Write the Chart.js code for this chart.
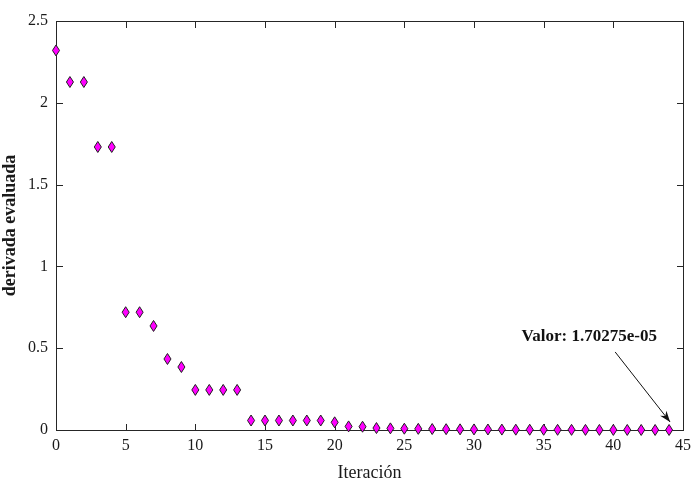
<!DOCTYPE html>
<html>
<head>
<meta charset="utf-8">
<script src="https://cdn.jsdelivr.net/npm/chart.js@4.4.0/dist/chart.umd.min.js"></script>
<style>
  html, body { margin: 0; padding: 0; background: #fff; }
  #wrap { width: 697px; height: 484px; }
</style>
</head>
<body>
<div id="wrap"><canvas id="chart"></canvas></div>
<script>
(function() {
    'use strict';

    // iteration index and evaluated derivative at each step
    const iteraciones = [0, 1, 2, 3, 4, 5, 6, 7, 8, 9, 10, 11, 12, 13, 14, 15, 16, 17, 18, 19, 20, 21,
        22, 23, 24, 25, 26, 27, 28, 29, 30, 31, 32, 33, 34, 35, 36, 37, 38, 39, 40, 41, 42, 43, 44];
    const derivada = [2.32, 2.127, 2.127, 1.73, 1.73, 0.72, 0.72, 0.636, 0.434, 0.385,
        0.245, 0.245, 0.245, 0.245, 0.058, 0.058, 0.058, 0.058, 0.058, 0.058, 0.047,
        0.022, 0.02, 0.012, 0.01, 0.008, 0.007, 0.006, 0.005, 0.004, 0.0035, 0.003,
        0.0025, 0.002, 0.0017, 0.0014, 0.0011, 0.0009, 0.0007, 0.0005, 0.0004, 0.0003,
        0.0002, 0.0001, 1.70275e-05];
    const xTicks = [0, 5, 10, 15, 20, 25, 30, 35, 40, 45];
    const yTicks = [0, 0.5, 1, 1.5, 2, 2.5];
    const etiqueta = 'Valor: 1.70275e-05';

    const FONT = '"Liberation Serif", "Times New Roman", serif';
    const INK = '#1a1a1a';

    // points drawn as tall diamonds (narrower than they are high)
    Chart.PointElement.prototype.draw = function(ctx) {
        const o = this.options;
        if (this.skip || o.radius < 0.1) return;
        const hh = o.radius;
        const hw = o.radius * 0.64;
        ctx.save();
        ctx.beginPath();
        ctx.moveTo(this.x, this.y - hh);
        ctx.lineTo(this.x + hw, this.y);
        ctx.lineTo(this.x, this.y + hh);
        ctx.lineTo(this.x - hw, this.y);
        ctx.closePath();
        ctx.fillStyle = o.backgroundColor;
        ctx.fill();
        ctx.lineWidth = o.borderWidth;
        ctx.strokeStyle = o.borderColor;
        ctx.stroke();
        ctx.restore();
    };

    // axes box and inward ticks, under the markers
    const boxPlugin = {
        id: 'boxPlugin',
        beforeDatasetsDraw(chart) {
            const ctx = chart.ctx;
            const xs = chart.scales.x;
            const ys = chart.scales.y;
            const L = Math.round(xs.getPixelForValue(xTicks[0]));
            const R = Math.round(xs.getPixelForValue(xTicks[xTicks.length - 1]));
            const T = Math.round(ys.getPixelForValue(yTicks[yTicks.length - 1]));
            const B = Math.round(ys.getPixelForValue(yTicks[0]));
            ctx.save();
            ctx.fillStyle = '#262626';
            ctx.fillRect(L, T, R - L + 1, 1);
            ctx.fillRect(L, B, R - L + 1, 1);
            ctx.fillRect(L, T, 1, B - T + 1);
            ctx.fillRect(R, T, 1, B - T + 1);
            xTicks.forEach(v => {
                const px = Math.round(xs.getPixelForValue(v));
                ctx.fillRect(px, B - 6, 1, 6);
                ctx.fillRect(px, T + 1, 1, 6);
            });
            yTicks.forEach(v => {
                const py = Math.round(ys.getPixelForValue(v));
                ctx.fillRect(L + 1, py, 6, 1);
                ctx.fillRect(R - 6, py, 6, 1);
            });
            ctx.restore();
        },
        // label and arrow pointing at the last iterate
        afterDraw(chart) {
            const ctx = chart.ctx;
            const xs = chart.scales.x;
            const ys = chart.scales.y;
            const last = derivada.length - 1;
            const tipX = xs.getPixelForValue(iteraciones[last]) + 1;
            const tipY = ys.getPixelForValue(derivada[last]) - 8;
            const sx = xs.getPixelForValue(40.13);
            const sy = ys.getPixelForValue(0.477);
            ctx.save();
            ctx.font = 'bold 17px ' + FONT;
            ctx.fillStyle = '#111';
            ctx.textAlign = 'center';
            ctx.textBaseline = 'middle';
            ctx.fillText(etiqueta, xs.getPixelForValue(38.27), ys.getPixelForValue(0.568));

            ctx.strokeStyle = '#111';
            ctx.lineWidth = 1;
            ctx.beginPath();
            ctx.moveTo(sx, sy);
            ctx.lineTo(tipX, tipY);
            ctx.stroke();
            const ang = Math.atan2(tipY - sy, tipX - sx);
            const len = 11, half = 4;
            ctx.beginPath();
            ctx.moveTo(tipX, tipY);
            ctx.lineTo(tipX - len * Math.cos(ang) + half * Math.sin(ang),
                tipY - len * Math.sin(ang) - half * Math.cos(ang));
            ctx.lineTo(tipX - len * 0.7 * Math.cos(ang), tipY - len * 0.7 * Math.sin(ang));
            ctx.lineTo(tipX - len * Math.cos(ang) - half * Math.sin(ang),
                tipY - len * Math.sin(ang) + half * Math.cos(ang));
            ctx.closePath();
            ctx.fill();
            ctx.restore();
        }
    };

    const points = iteraciones.map((x, i) => ({ x: x, y: derivada[i] }));

    new Chart(document.getElementById('chart'), {
        type: 'scatter',
        data: {
            datasets: [{
                data: points,
                pointRadius: 5.5,
                pointBackgroundColor: '#ff00ff',
                pointBorderColor: '#202020',
                pointBorderWidth: 1,
                clip: false
            }]
        },
        options: {
            responsive: true,
            maintainAspectRatio: false,
            animation: false,
            layout: { padding: { top: 21, right: 11, left: 0, bottom: 0 } },
            plugins: {
                legend: { display: false },
                tooltip: { enabled: false }
            },
            scales: {
                x: {
                    type: 'linear',
                    min: 0,
                    max: 45,
                    afterBuildTicks: s => { s.ticks = xTicks.map(v => ({ value: v })); },
                    afterFit: s => { s.height = 54; },
                    grid: { display: false, drawTicks: false },
                    border: { display: false },
                    ticks: {
                        padding: 6,
                        maxRotation: 0,
                        color: INK,
                        font: { family: FONT, size: 16 },
                        callback: v => String(v)
                    },
                    title: {
                        display: true,
                        text: 'Iteración',
                        color: INK,
                        padding: { top: 0, bottom: 0 },
                        font: { family: FONT, size: 18 }
                    }
                },
                y: {
                    type: 'linear',
                    min: 0,
                    max: 2.5,
                    afterBuildTicks: s => { s.ticks = yTicks.map(v => ({ value: v })); },
                    afterFit: s => { s.width = 56; },
                    grid: { display: false, drawTicks: false },
                    border: { display: false },
                    ticks: {
                        padding: 8,
                        color: INK,
                        font: { family: FONT, size: 16 },
                        callback: v => String(v)
                    },
                    title: {
                        display: true,
                        text: 'derivada evaluada',
                        color: INK,
                        padding: { top: 0, bottom: 4 },
                        font: { family: FONT, size: 18, weight: 'bold' }
                    }
                }
            }
        },
        plugins: [boxPlugin]
    });
})();
</script>
</body>
</html>
